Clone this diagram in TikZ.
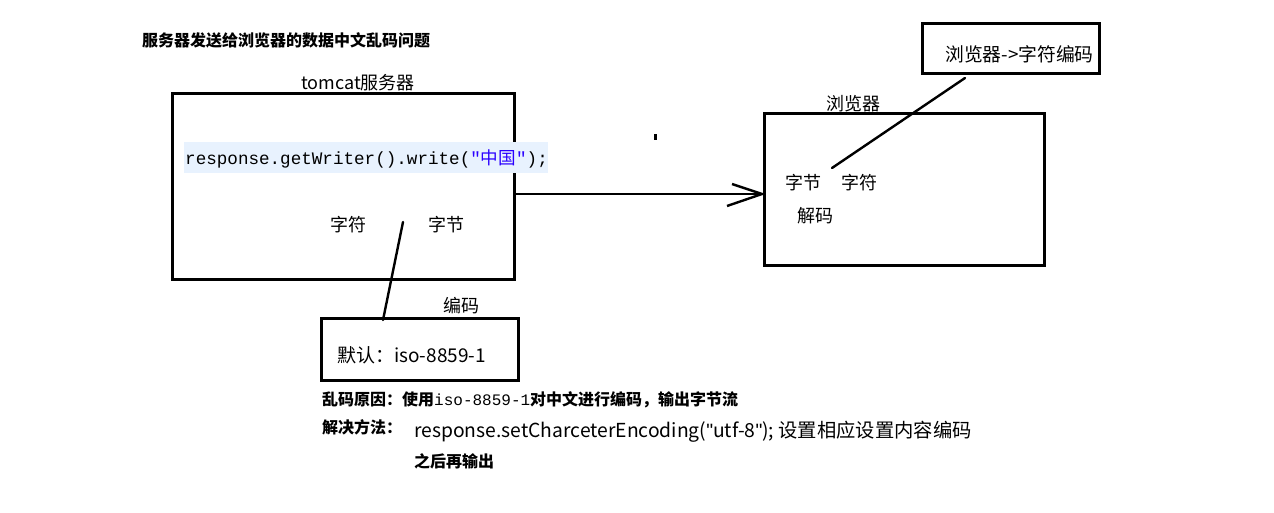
\documentclass[tikz,border=0pt]{standalone}
\usepackage{fontspec}
\setmainfont{Noto Sans CJK SC}[Ligatures=ResetAll]
\newfontfamily\cjk{Noto Sans CJK SC}[Ligatures=ResetAll]
\newfontfamily\codefont{Liberation Mono}[Ligatures=ResetAll]
\newfontfamily\qfont{Liberation Sans}[Ligatures=ResetAll]
\definecolor{hlblue}{HTML}{E8F2FE}
\definecolor{strblue}{HTML}{2A00FF}
\begin{document}
\begin{tikzpicture}[x=1pt,y=-1pt,
  box/.style={draw=black,line width=3pt},
  lbl/.style={inner sep=0pt,font=\fontsize{18}{20}\selectfont},
  wire/.style={line width=2.4pt,line cap=round}]
\useasboundingbox[fill=white] (0,0) rectangle (1274,512);
% title
\node[lbl,anchor=west,font=\fontsize{16}{18}\selectfont\bfseries] (title) at (142,40) {服务器发送给浏览器的数据中文乱码问题};
% tomcat box
\node[lbl] (tomcatlbl) at (358,83) {tomcat服务器};
\draw[box] (172,93) rectangle (514,279);
\coordinate (b1e) at (514,194);
\fill[hlblue] (184,142) rectangle (548,173);
\node[inner sep=0pt,anchor=west] (code) at (185,159) {\fontsize{17.6}{19}\selectfont\codefont response.getWriter().write(\textcolor{strblue}{\char34\cjk 中国}\textcolor{strblue}{\char34});};
\node[lbl] (zifu1) at (348,225) {字符};
\node[lbl] (zijie1) at (446,225) {字节};
\coordinate (l1a) at (403,222);
\coordinate (l1b) at (383,320);
\draw[wire] (l1a) -- (l1b);
\node[lbl] (bianma) at (461,306) {编码};
% default box
\draw[box] (321,318) rectangle (518,380);
\node[lbl,anchor=west,font=\fontsize{19}{20}\selectfont] (default) at (337,355) {默认：iso-8859-1};
% browser box
\node[lbl] (browserlbl) at (853,104) {浏览器};
\draw[box] (764,113) rectangle (1044,265);
\coordinate (b3w) at (764,194);
\node[lbl] (zijie2) at (803,183) {字节};
\node[lbl] (zifu2) at (859,183) {字符};
\node[lbl] (jiema) at (815,216) {解码};
% arrow
\draw[line width=2.4pt] (b1e) -- (b3w);
\coordinate (ah1) at (732,184);
\coordinate (ah2) at (727,206);
\coordinate (ahtip) at (762,194);
\draw[line width=2.4pt] (ah1) -- (ahtip) -- (ah2);
% top-right box
\draw[box] (922,23) rectangle (1099,73);
\node[lbl,anchor=west,font=\fontsize{18.8}{20}\selectfont] (enc) at (945,54) {浏览器->字符编码};
\coordinate (l2a) at (965,78);
\coordinate (l2b) at (832,168);
\draw[wire] (l2a) -- (l2b);
% dot
\fill (654,134) rectangle (657,140);
% bottom texts
\node[inner sep=0pt,anchor=west,font=\fontsize{16}{18}\selectfont\bfseries] (reason) at (322,400) {乱码原因：使用{\mdseries\codefont iso-8859-1}对中文进行编码，输出字节流};
\node[inner sep=0pt,anchor=west,font=\fontsize{16}{18}\selectfont\bfseries] (solve) at (322,427) {解决方法：};
\node[inner sep=0pt,anchor=west,font=\fontsize{19.3}{21}\selectfont] (setenc) at (414,432) {response.setCharceterEncoding({\qfont\char34}utf-8{\qfont\char34}); 设置相应设置内容编码};
\node[inner sep=0pt,anchor=west,font=\fontsize{16}{18}\selectfont\bfseries] (after) at (414,461) {之后再输出};
\end{tikzpicture}
\end{document}
